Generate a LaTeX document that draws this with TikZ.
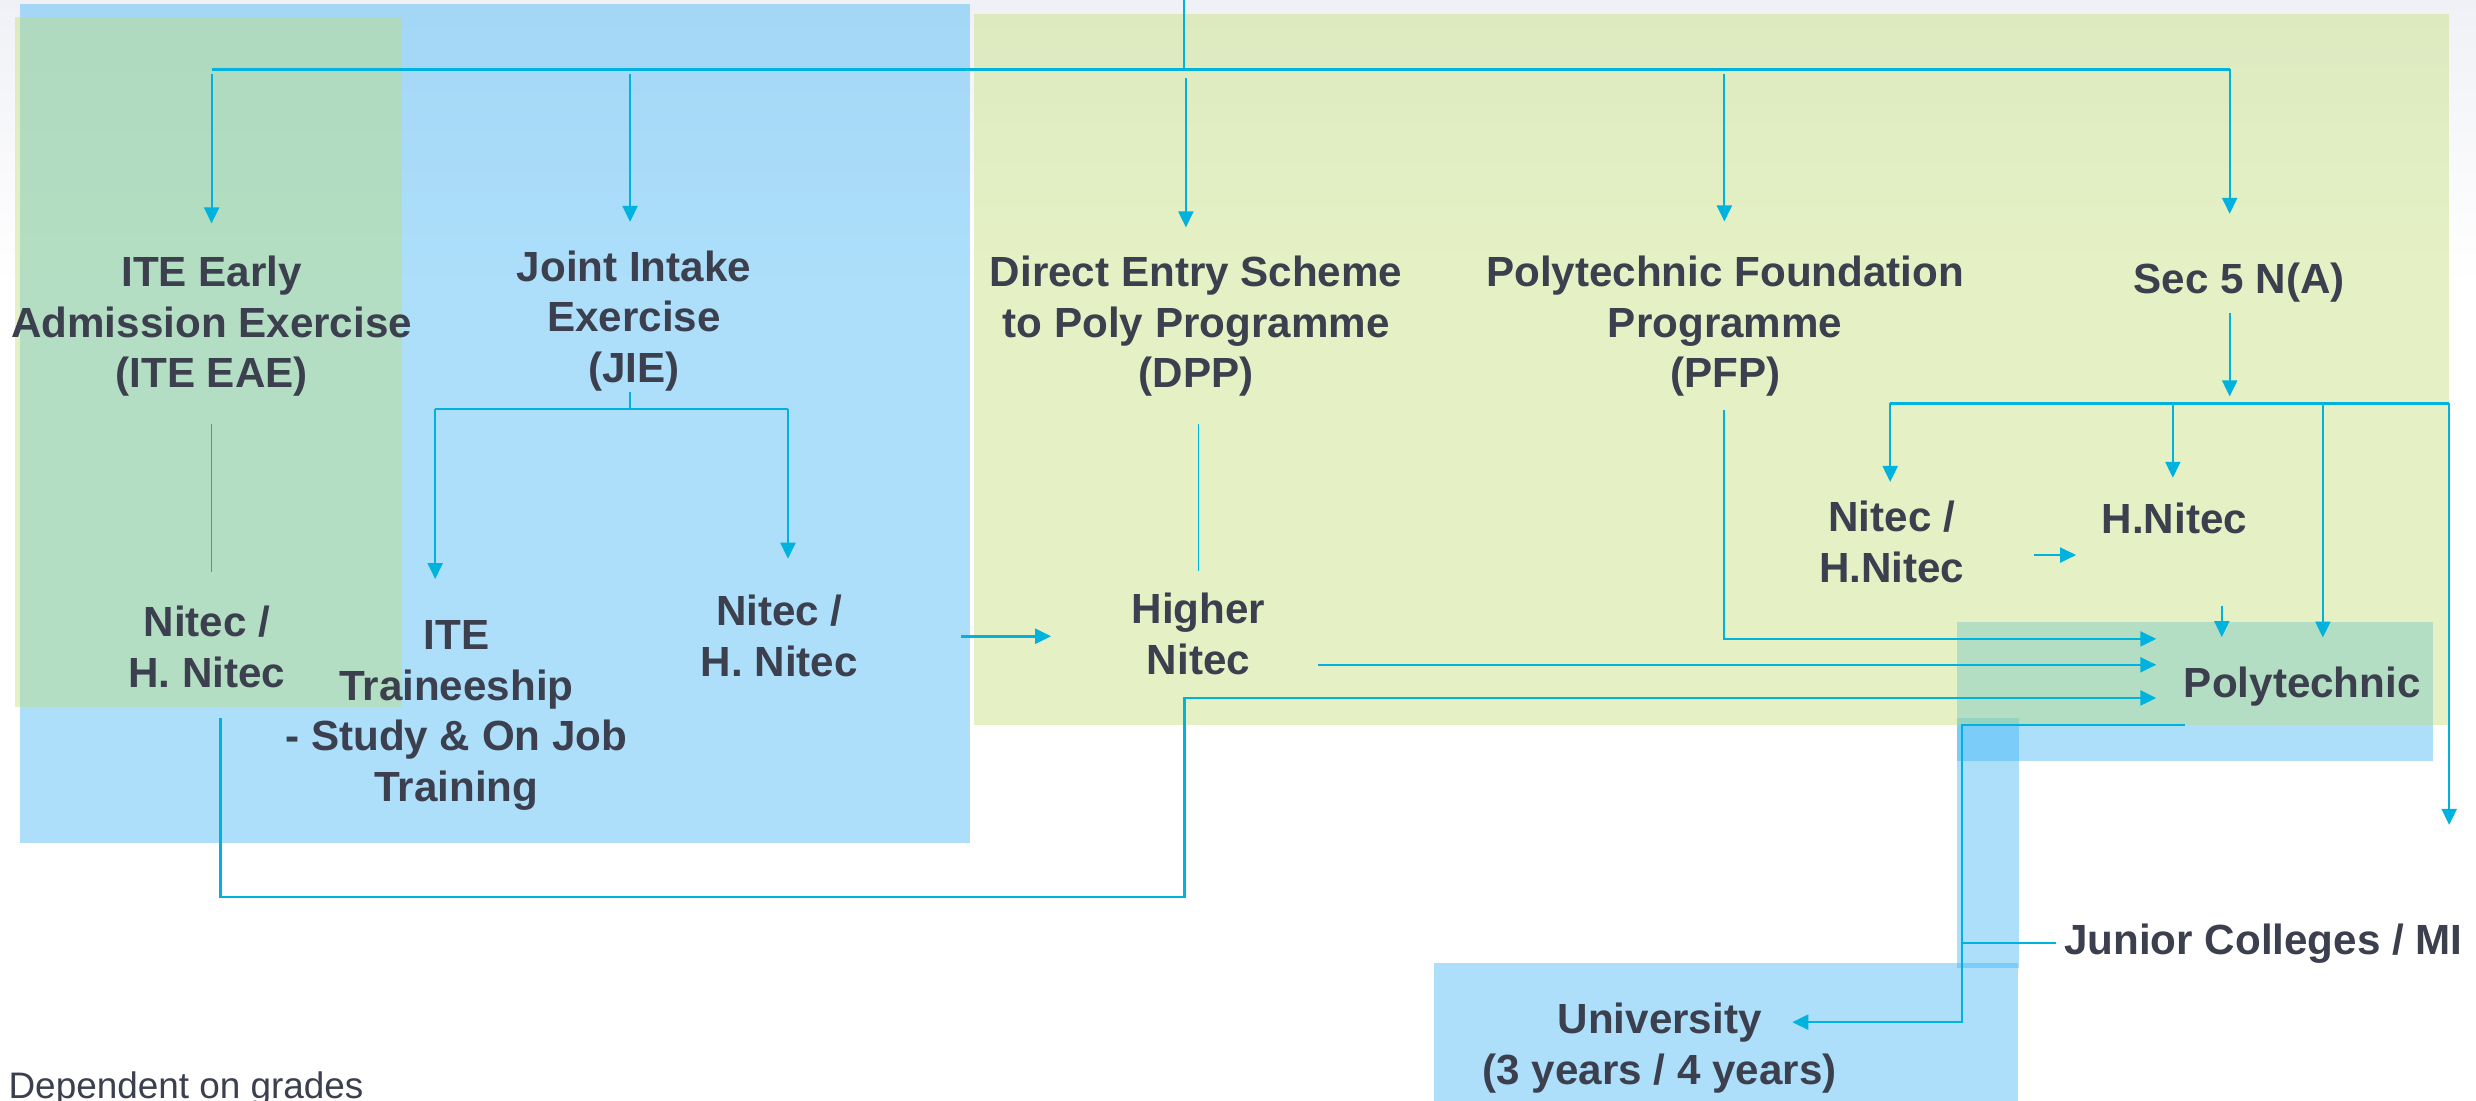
\documentclass[tikz,border=0pt]{standalone}
\usepackage{fontspec}
\setmainfont{Liberation Sans}
\usetikzlibrary{arrows.meta,positioning}
\definecolor{flowcyan}{RGB}{0,178,222}
\definecolor{inkgrey}{RGB}{59,63,78}
\definecolor{skyband}{RGB}{50,176,245}
\definecolor{limeband}{RGB}{192,222,111}
\definecolor{topgrey}{RGB}{240,241,246}
\tikzset{entry/.style={align=center,text=inkgrey,inner sep=0pt,font=\fontsize{12}{14.4}\selectfont\bfseries}}
\tikzset{flow/.style={draw=flowcyan,line width=0.6pt}}
\tikzset{faint/.style={flow,line width=0.4pt}}
\tikzset{sky/.style={fill=skyband,fill opacity=0.4}}
\tikzset{lime/.style={fill=limeband,fill opacity=0.4}}

\begin{document}
\begin{tikzpicture}[x=0.015791cm,y=-0.015796cm,>={Triangle[length=1.6mm,width=1.5mm]}]
    \useasboundingbox (0,0) rectangle (1568,697);
    \fill[white] (0,0) rectangle (1568,697);
    \shade[top color=topgrey,bottom color=white] (0,0) rectangle (1568,180);

    % coloured bands
    \fill[sky] (12.7,2.5) rectangle (614.3,533.7);
    \fill[sky] (1239,394) rectangle (1541,482);
    \fill[sky] (1239,454.6) rectangle (1278.6,613);
    \fill[sky] (908.4,609.7) rectangle (1278,697);
    \fill[lime] (9.5,10.8) rectangle (254.6,448);
    \fill[lime] (617,8.9) rectangle (1551,459);

    \node[entry] (eae) at (134,206.7) {ITE Early\\Admission Exercise\\(ITE EAE)};
    \node[entry] (jie) at (401.5,203.2) {Joint Intake\\Exercise\\(JIE)};
    \node[entry] (dpp) at (757.5,206.7) {Direct Entry Scheme\\to Poly Programme\\(DPP)};
    \node[entry] (pfp) at (1092.5,206.7) {Polytechnic Foundation\\Programme\\(PFP)};
    \node[entry] (secfive) at (1418,178.7) {Sec 5 N(A)};

    \node[entry] (eaenitec) at (131,409.7) {Nitec /\\H. Nitec};
    \node[entry] (trainee) at (289,453.2) {ITE\\Traineeship\\- Study \& On Job\\Training};
    \node[entry] (jienitec) at (493.5,402.9) {Nitec /\\H. Nitec};
    \node[entry] (higher) at (759,401.4) {Higher\\Nitec};
    \node[entry] (secnitec) at (1198,343.2) {Nitec /\\H.Nitec};
    \node[entry] (sechnitec) at (1377,328) {H.Nitec};
    \node[entry] (poly) at (1458,434.7) {Polytechnic};
    \node[entry,anchor=west] (jc) at (1306.8,597.4) {Junior Colleges / MI};
    \node[entry] (uni) at (1051,647.3) {University};
    \node[entry,below of=uni,node distance=0.51cm] (uniyrs) {(3 years / 4 years)};
    \node[anchor=base west,inner sep=0pt,text=inkgrey,font=\fontsize{10.5}{12.6}\selectfont] (note) at (5,695.5) {Dependent on grades};

    % top bus
    \coordinate (top) at (750,0);
    \coordinate (bus-l) at (134,44);
    \coordinate (bus-jie) at (399,44);
    \coordinate (bus-dpp) at (751,44);
    \coordinate (bus-pfp) at (1092,44);
    \coordinate (bus-r) at (1412,44);
    \path[flow] (top) -- (top |- bus-l);
    \path[flow,line width=0.7pt] (bus-l) -- (bus-r);
    \path[flow,->,shorten <=0.5mm,shorten >=3.2mm] (bus-l) -- (bus-l |- eae.north);
    \path[flow,->,shorten <=0.5mm,shorten >=2.8mm] (bus-jie) -- (bus-jie |- jie.north);
    \path[flow,->,shorten <=0.9mm,shorten >=2.8mm] (bus-dpp) -- (bus-dpp |- dpp.north);
    \path[flow,->,shorten <=0.5mm,shorten >=3.4mm] (bus-pfp) -- (bus-pfp |- pfp.north);
    \path[flow,->,shorten >=4.8mm] (bus-r) -- (bus-r |- secfive.north);

    % ITE side
    \path[faint,shorten <=2.7mm,shorten >=3.3mm] (bus-l |- eae.south) -- (bus-l |- eaenitec.north);
    \coordinate (jf-l) at (275.6,259);
    \coordinate (jf-r) at (499,259);
    \path[flow] (bus-jie |- jie.south) -- (bus-jie |- jf-l);
    \path[flow] (jf-l) -- (jf-r);
    \path[flow,->,shorten >=4.1mm] (jf-l) -- (jf-l |- trainee.north);
    \path[flow,->,shorten >=3.6mm] (jf-r) -- (jf-r |- jienitec.north);
    \path[flow,->,line width=0.8pt,shorten <=10.3mm,shorten >=8.0mm] (jienitec.east) -- (jienitec.east -| higher.west);

    % poly side
    \path[faint,shorten <=2.7mm,shorten >=2.1mm] (higher.north |- dpp.south) -- (higher.north);
    \coordinate (pfp-in) at (1092,404.6);
    \path[flow,->,shorten <=1.3mm,shorten >=2.7mm] (bus-pfp |- pfp.south) -- (pfp-in) -- (pfp-in -| poly.west);
    \coordinate (hn-out) at (834.7,421);
    \path[flow,->,shorten >=2.7mm] (hn-out) -- (hn-out -| poly.west);
    \coordinate (loop-a) at (139.7,568);
    \coordinate (loop-b) at (750,568);
    \coordinate (loop-c) at (750,442);
    \path[flow,->,line width=0.75pt,shorten <=3mm,shorten >=2.7mm] (loop-a |- eaenitec.south) -- (loop-a) -- (loop-b) -- (loop-c) -- (loop-c -| poly.west);

    % sec 5 fork
    \coordinate (sf-l) at (1197,255.5);
    \coordinate (sf-m) at (1376,255.5);
    \coordinate (sf-p) at (1471,255.5);
    \coordinate (sf-r) at (1551,255.5);
    \path[flow,->,shorten <=1mm,shorten >=0.7mm] (bus-r |- secfive.south) -- (bus-r |- sf-l);
    \path[flow] (sf-l) -- (sf-r);
    \path[flow,->,shorten >=1.85mm] (sf-l) -- (sf-l |- secnitec.north);
    \path[flow,->,shorten >=2.4mm] (sf-m) -- (sf-m |- sechnitec.north);
    \path[flow,->,shorten >=2.85mm] (sf-p) -- (sf-p |- poly.north);
    \path[flow,->,shorten >=9.8mm] (sf-r) -- (sf-r |- jc.north);
    \coordinate (nn-out) at ([yshift=-1.31mm]secnitec.east);
    \path[flow,->,shorten <=6.9mm,shorten >=2.5mm] (nn-out) -- (nn-out -| sechnitec.west);
    \coordinate (hn-down) at (1407,383.7);
    \path[flow,->,shorten >=2.9mm] (hn-down) -- (hn-down |- poly.north);

    % after polytechnic
    \coordinate (pu-a) at (1383.7,459.4);
    \coordinate (pu-b) at (1242.4,459.4);
    \path[flow,->,shorten >=3mm] (pu-a) -- (pu-b) -- (pu-b |- uni.east) -- (uni.east);
    \path[flow,shorten >=0.76mm] (pu-b |- jc.west) -- (jc.west);
\end{tikzpicture}
\end{document}
